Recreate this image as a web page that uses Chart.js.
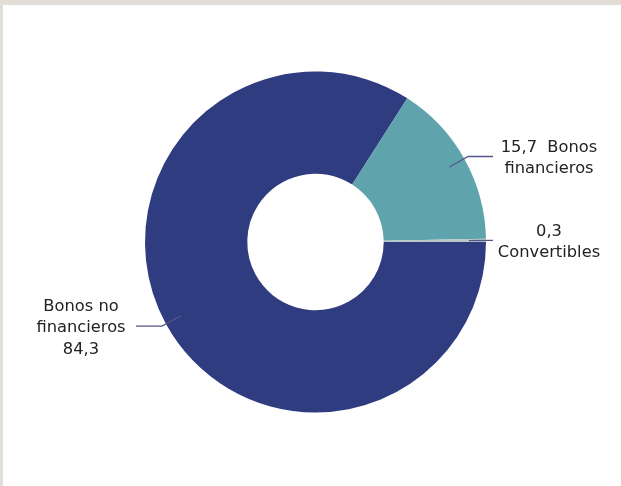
<!DOCTYPE html>
<html>
<head>
<meta charset="utf-8">
<script src="https://cdn.jsdelivr.net/npm/chart.js@4/dist/chart.umd.min.js"></script>
<style>
  html, body { margin: 0; padding: 0; background: #ffffff; }
  #wrap { position: relative; width: 621px; height: 486px; overflow: hidden; background: #fff; }
  #topbar { position: absolute; left: 0; top: 0; width: 621px; height: 5px; background: #e3ddd8; }
  #leftbar { position: absolute; left: 0; top: 0; width: 3px; height: 486px; background: #e3ddd8; }
  canvas { position: absolute; left: 0; top: 0; }
</style>
</head>
<body>
<div id="wrap">
  <canvas id="c" width="621" height="486"></canvas>
  <div id="topbar"></div>
  <div id="leftbar"></div>
</div>
<script>
// Data
const categories = ["Bonos no financieros", "Bonos financieros", "Convertibles"];
const values = [84.3, 15.7, 0.3];
const colors = ["#2f3c80", "#5fa3ad", "#b9c6c4"];

const fmt = v => v.toFixed(1).replace(".", ",");
// Label text lines per category
const labelLines = [
  ["Bonos no", "financieros", fmt(values[0])],
  [fmt(values[1]) + "  Bonos", "financieros"],
  [fmt(values[2]), "Convertibles"]
];

const FONT = '16.3px "DejaVu Sans", sans-serif';

const leaderPlugin = {
  id: 'leaders',
  afterDatasetsDraw(chart) {
    const ctx = chart.ctx;
    const meta = chart.getDatasetMeta(0);
    ctx.save();
    meta.data.forEach((arc, i) => {
      const p = arc.getProps(['x', 'y', 'startAngle', 'endAngle', 'outerRadius'], true);
      const mid = (p.startAngle + p.endAngle) / 2;
      const c = Math.cos(mid), s = Math.sin(mid);
      const r0 = p.outerRadius * 0.9;
      const r1 = p.outerRadius + 4.5;
      const ax = p.x + c * r0, ay = p.y + s * r0;
      const ex = p.x + c * r1, ey = p.y + s * r1;
      const right = c >= 0;
      const hx = right ? p.x + p.outerRadius + 7 : p.x - p.outerRadius - 9;
      ctx.strokeStyle = "#56558a";
      ctx.lineWidth = 1.3;
      ctx.beginPath();
      ctx.moveTo(ax, ay);
      ctx.lineTo(ex, ey);
      ctx.lineTo(hx, ey);
      ctx.stroke();
      const tx = right ? hx + 56 : hx - 55;
      const lines = labelLines[i];
      const lh = 21.5;
      const y0 = ey - (lines.length - 1) * lh / 2 + 2;
      ctx.fillStyle = "#222222";
      ctx.font = FONT;
      ctx.textAlign = "center";
      ctx.textBaseline = "middle";
      lines.forEach((t, k) => ctx.fillText(t, tx, y0 + k * lh));
    });
    ctx.restore();
  }
};

new Chart(document.getElementById('c'), {
  type: 'doughnut',
  data: {
    labels: categories,
    datasets: [{
      data: values,
      backgroundColor: colors,
      borderWidth: 0
    }]
  },
  options: {
    responsive: false,
    animation: false,
    rotation: 90,
    cutout: '40%',
    layout: { padding: { left: 145, right: 135, top: 71.5, bottom: 73.5 } },
    plugins: {
      legend: { display: false },
      tooltip: { enabled: false }
    }
  },
  plugins: [leaderPlugin]
});
</script>
</body>
</html>
